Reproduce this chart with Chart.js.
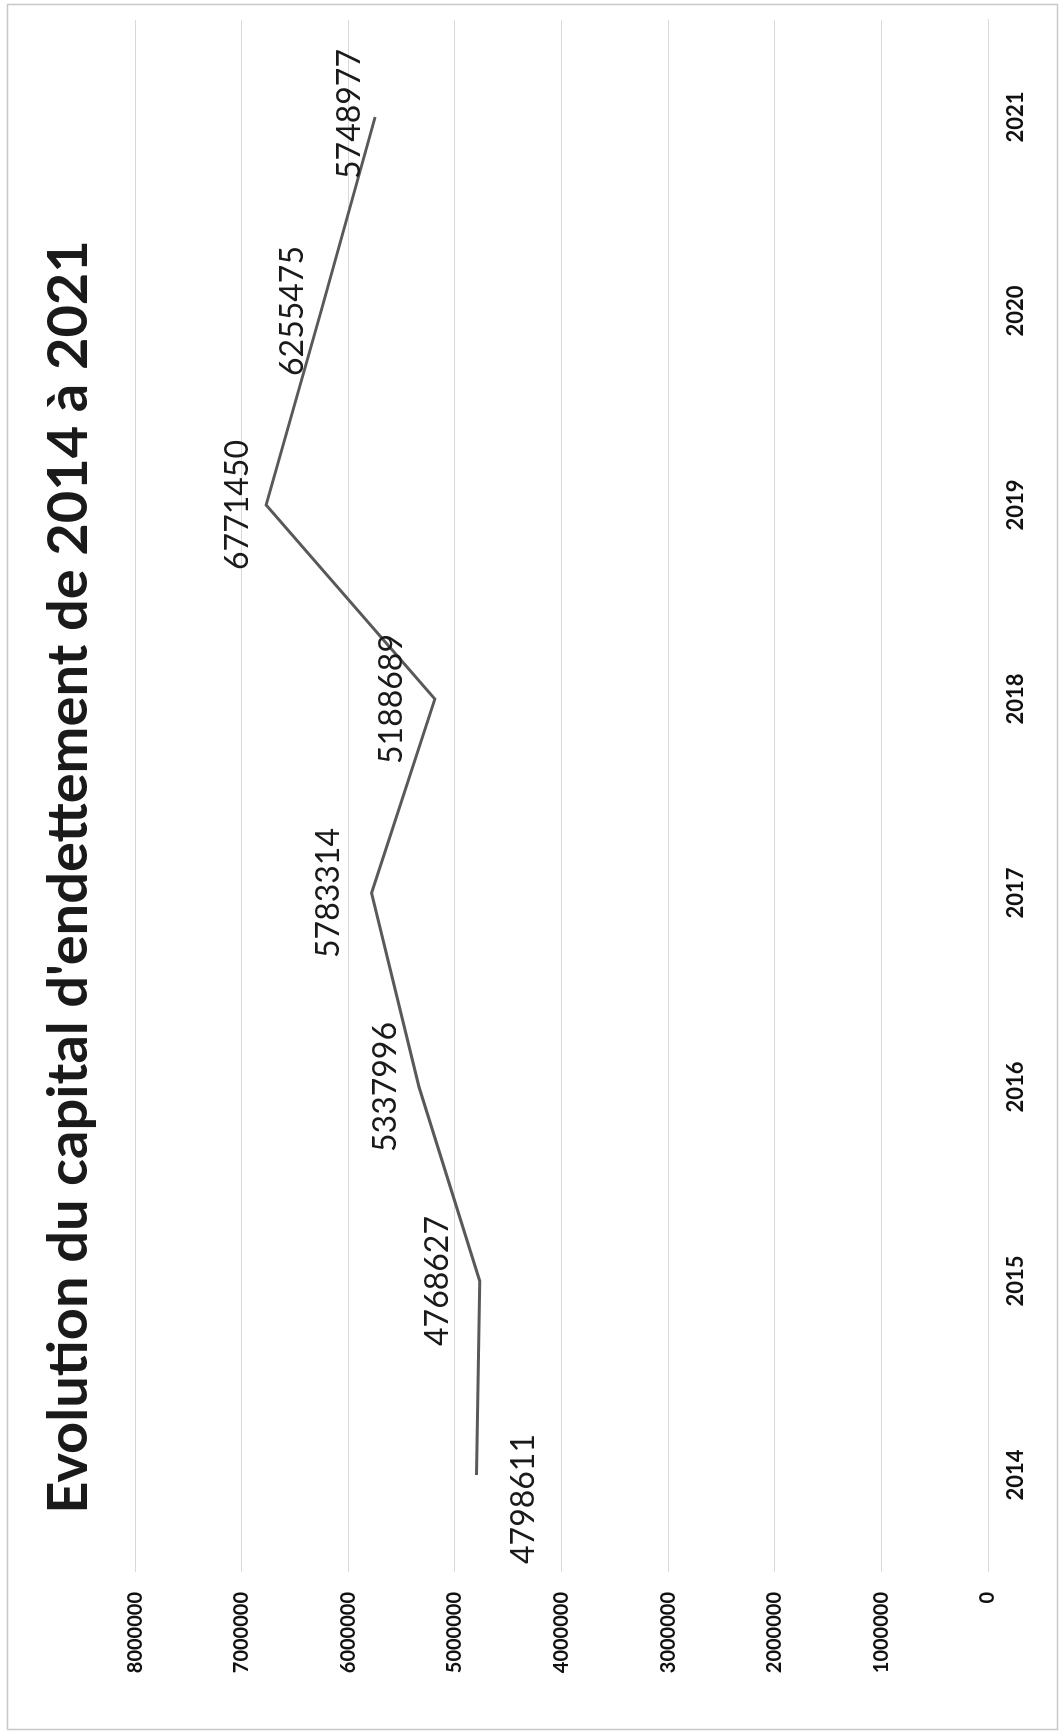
<!DOCTYPE html>
<html>
<head>
<meta charset="utf-8">
<title>Evolution du capital d'endettement</title>
<script src="https://cdn.jsdelivr.net/npm/chart.js@4.4.1/dist/chart.umd.min.js"></script>
<style>
  body { margin: 0; background: #fff; overflow: hidden; }
  /* the scanned chart is turned a quarter turn to the left */
  #wrap {
    position: absolute; left: 0; top: 0;
    width: 1734px; height: 1062px;
    transform-origin: 0 0;
    transform: translate(0, 1734px) rotate(-90deg);
  }
</style>
</head>
<body>
<div id="wrap"><canvas id="myChart" width="1734" height="1062"></canvas></div>
<script>
const years = ['2014', '2015', '2016', '2017', '2018', '2019', '2020', '2021'];
const capital = [4798611, 4768627, 5337996, 5783314, 5188689, 6771450, 6255475, 5748977];
const valueMin = 0;
const valueMax = 8000000;
const valueStep = 1000000;

const FONT = "Lato, 'Noto Sans', sans-serif";

// labels next to each point (no datalabels plugin available offline)
const pointLabels = {
    id: 'pointLabels',
    afterDatasetsDraw(chart, args, opts) {
        const ctx = chart.ctx;
        const meta = chart.getDatasetMeta(0);
        ctx.save();
        ctx.font = opts.font;
        ctx.fillStyle = opts.color;
        ctx.textAlign = 'center';
        ctx.textBaseline = 'middle';
        meta.data.forEach((pt, i) => {
            ctx.fillText(String(capital[i]), pt.x + opts.dx[i], pt.y + opts.dy[i]);
        });
        ctx.restore();
    }
};

// light frame around the chart area
const chartFrame = {
    id: 'chartFrame',
    beforeDraw(chart) {
        const ctx = chart.ctx;
        ctx.save();
        ctx.fillStyle = '#fff';
        ctx.fillRect(0, 0, chart.width, chart.height);
        ctx.strokeStyle = '#c8c8c8';
        ctx.lineWidth = 1.5;
        ctx.strokeRect(4.5, 7.5, chart.width - 9, chart.height - 12);
        ctx.restore();
    }
};

const ctx = document.getElementById('myChart').getContext('2d');

new Chart(ctx, {
    type: 'line',
    data: {
        labels: years,
        datasets: [{
            label: 'Capital',
            data: capital,
            borderColor: '#595959',
            borderWidth: 3,
            pointRadius: 0,
            tension: 0,
            fill: false
        }]
    },
    options: {
        responsive: false,
        animation: false,
        layout: { padding: { left: 0, right: 20, top: 0, bottom: 0 } },
        plugins: {
            legend: { display: false },
            tooltip: { enabled: false },
            title: {
                display: true,
                text: "Evolution du capital d'endettement de 2014 à 2021",
                color: '#1a1a1a',
                font: { family: FONT, size: 56, weight: 'bold', lineHeight: 1.2 },
                padding: { top: 35, bottom: 33 }
            },
            pointLabels: {
                font: "32px " + FONT,
                color: '#1a1a1a',
                dx: [-24, 0, 0, 0, 0, 0, 0, 3],
                dy: [47, -42, -33, -43, -43, -28, -28, -25]
            }
        },
        scales: {
            x: {
                offset: true,
                grid: { display: false, drawTicks: false },
                border: { display: true, color: '#d9d9d9' },
                ticks: {
                    color: '#111',
                    font: { family: FONT, size: 22, weight: 'bold' },
                    padding: 15,
                    maxRotation: 0
                },
                afterFit: scale => { scale.height = 74; }
            },
            y: {
                min: valueMin,
                max: valueMax,
                grid: { color: '#d9d9d9', lineWidth: 1, drawTicks: false },
                border: { display: false },
                ticks: {
                    stepSize: valueStep,
                    color: '#111',
                    font: { family: FONT, size: 20, weight: 'bold' },
                    padding: 20,
                    callback: v => String(v)
                },
                afterFit: scale => { scale.width = 162; }
            }
        }
    },
    plugins: [chartFrame, pointLabels]
});
</script>
</body>
</html>
